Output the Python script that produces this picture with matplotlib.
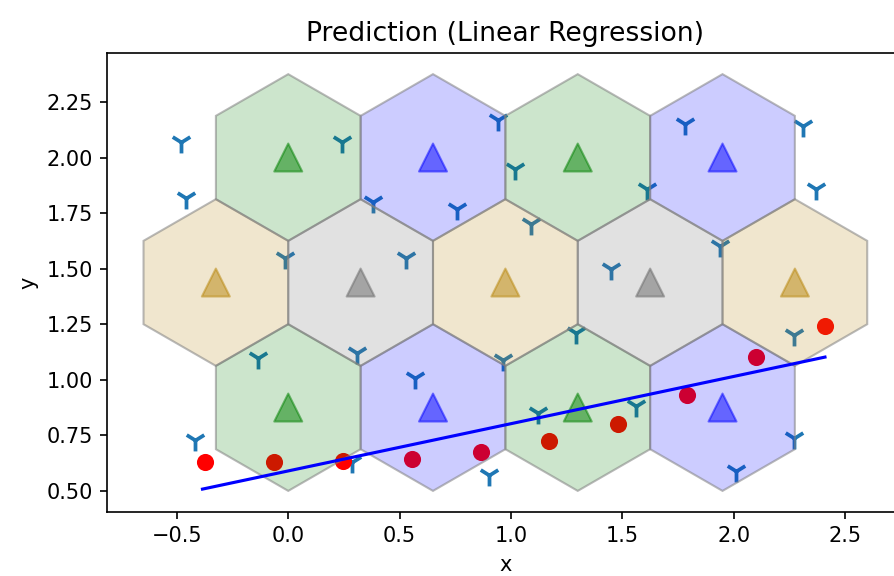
import numpy as np
import matplotlib
matplotlib.use("Agg")
import matplotlib.pyplot as plt
from matplotlib.patches import RegularPolygon

# hexagon grid (centres in data coords) and their colours
hex_x = [0.0, 0.65, 1.3, 1.95,
         -0.325, 0.325, 0.975, 1.625, 2.275,
         0.0, 0.65, 1.3, 1.95]
hex_y = [2.0, 2.0, 2.0, 2.0,
         1.4375, 1.4375, 1.4375, 1.4375, 1.4375,
         0.875, 0.875, 0.875, 0.875]
hex_colors = ["green", "blue", "green", "blue",
              "darkgoldenrod", "dimgray", "darkgoldenrod", "dimgray", "darkgoldenrod",
              "green", "blue", "green", "blue"]
hex_radius = 0.375

# scattered "Y" points
pts_x = [-0.48, -0.46, 0.24, 0.38, 0.76, -0.015, 0.53, 0.94, 1.02, 1.61,
         1.09, 1.78, 2.31, 2.37, 1.94, 1.45, -0.135, 0.31, 0.57, -0.42,
         0.285, 0.90, 1.29, 0.965, 1.12, 1.56, 2.27, 2.27, 2.01]
pts_y = [2.07, 1.82, 2.07, 1.80, 1.77, 1.55, 1.55, 2.17, 1.95, 1.86,
         1.70, 2.15, 2.14, 1.86, 1.60, 1.50, 1.10, 1.12, 1.01, 0.73,
         0.63, 0.57, 1.21, 1.09, 0.85, 0.88, 1.20, 0.74, 0.59]

# red observations
obs_x = [-0.374, -0.064, 0.247, 0.554, 0.864, 1.172, 1.482, 1.792, 2.10, 2.41]
obs_y = [0.629, 0.629, 0.636, 0.644, 0.674, 0.724, 0.802, 0.932, 1.104, 1.243]

# fitted regression line
line_x = [-0.385, 2.41]
line_y = [0.508, 1.102]

fig = plt.figure(figsize=(894 / 150, 576 / 150), dpi=150)
ax = fig.add_axes([0.12, 0.1116, 0.8906, 0.7958])

ax.scatter(pts_x, pts_y, marker="1", s=110, linewidths=1.8, color="tab:blue", zorder=1)
ax.scatter(obs_x, obs_y, s=52, color="red", zorder=1)

for x, y, c in zip(hex_x, hex_y, hex_colors):
    fc = matplotlib.colors.to_rgba(c, 0.2)
    hexagon = RegularPolygon((x, y), numVertices=6, radius=hex_radius,
                             facecolor=fc, edgecolor=(0.5, 0.5, 0.5, 0.55),
                             linewidth=1.0, zorder=2)
    ax.add_patch(hexagon)

ax.scatter(hex_x, hex_y, marker="^", s=180, c=hex_colors, alpha=0.5, zorder=3)

ax.plot(line_x, line_y, color="blue", zorder=4)

ax.set_xlim(-0.8125, 2.7625)
ax.set_ylim(0.40625, 2.46875)
ax.set_xticks([-0.5, 0.0, 0.5, 1.0, 1.5, 2.0, 2.5])
ax.set_yticks([0.5, 0.75, 1.0, 1.25, 1.5, 1.75, 2.0, 2.25])
ax.set_title("Prediction (Linear Regression)", fontsize=12.8)
ax.set_xlabel("x")
ax.set_ylabel("y")

fig.savefig("out.png", dpi=150)
